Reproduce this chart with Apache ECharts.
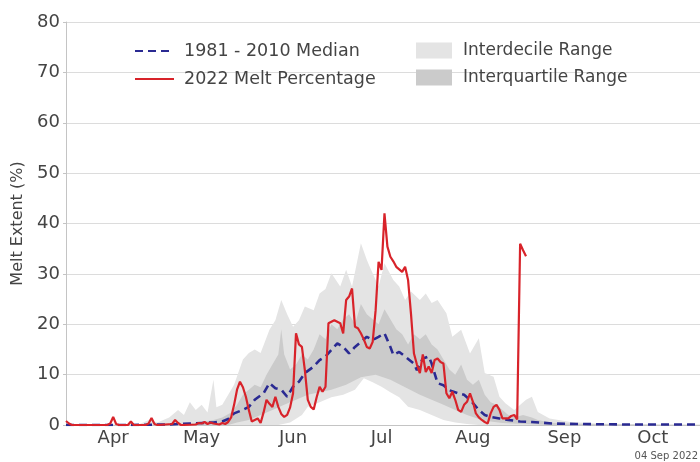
<!DOCTYPE html>
<html>
<head>
<meta charset="utf-8">
<script src="https://cdn.jsdelivr.net/npm/echarts@6/dist/echarts.min.js"></script>
<style>
  html, body { margin: 0; padding: 0; background: #fff; }
  #chart { width: 700px; height: 462px; }
</style>
</head>
<body>
<div id="chart"></div>
<script>
// x = days since 30 Mar (0 .. 215 = 31 Oct)
const monthTicks = [16, 46, 77, 107, 138, 169, 199]
const monthNames = ['Apr', 'May', 'Jun', 'Jul', 'Aug', 'Sep', 'Oct']

// 2022 melt percentage [day, %]
const melt2022 = [
  [0, 0.8], [1, 0.3], [2, 0], [14, 0], [15, 0.3], [16, 1.6], [17, 0.2], [18, 0], [21, 0], [22, 0.7], [23, 0],
  [27, 0], [28, 0.3], [29, 1.4], [30, 0.2], [31, 0], [36, 0.2], [37, 1.0], [38, 0.4], [39, 0], [44, 0.1],
  [45, 0.4], [46, 0.3], [47, 0.6], [48, 0.2], [49, 0.5], [50, 0.3], [51, 0.2], [52, 0.1], [53, 0.4], [54, 0.2],
  [55, 0.6], [56, 1.5], [57, 4], [58, 7], [59, 8.6], [60, 7.5], [61, 5.6], [62, 3], [63, 0.7], [64, 1.0],
  [65, 1.3], [66, 0.4], [67, 2.5], [68, 5], [69, 4.2], [70, 3.6], [71, 5.6], [72, 3.6], [73, 2.2], [74, 1.6],
  [75, 2], [76, 3.5], [77, 6.3], [78, 18.2], [79, 16], [80, 15.5], [81, 10.9], [82, 5], [83, 3.6], [84, 3.1],
  [85, 5.5], [86, 7.6], [87, 6.6], [88, 7.6], [89, 20.2], [90, 20.5], [91, 20.8], [92, 20.5], [93, 20.2],
  [94, 18.2], [95, 24.8], [96, 25.5], [97, 27.1], [98, 19.5], [99, 19.2], [100, 18.2], [101, 17], [102, 15.5],
  [103, 15.2], [104, 16.5], [105, 22.8], [106, 32.4], [107, 30.8], [108, 42], [109, 35.4], [110, 33.4],
  [111, 32.5], [112, 31.4], [113, 30.9], [114, 30.4], [115, 31.4], [116, 28.8], [117, 22], [118, 14.2],
  [119, 12], [120, 10.3], [121, 14], [122, 10.5], [123, 11.6], [124, 10.3], [125, 12.9], [126, 13.2],
  [127, 12.5], [128, 12.2], [129, 6.3], [130, 5.3], [131, 6.6], [132, 5], [133, 3], [134, 2.6], [135, 4],
  [136, 4.6], [137, 6.3], [138, 4.6], [139, 2.3], [140, 1.5], [141, 1], [142, 0.6], [143, 0.3], [144, 2.3],
  [145, 3.6], [146, 4], [147, 3], [148, 1.3], [149, 1.3], [150, 1.3], [151, 1.8], [152, 2], [153, 1.1],
  [154, 36], [155, 34.7], [156, 33.5]
]

// 1981-2010 median
const median = [
  [0, 0], [20, 0], [35, 0.1], [42, 0.3], [46, 0.4], [50, 0.5], [53, 0.7], [55, 1.2], [57, 2.3], [60, 3],
  [62, 3.6], [64, 5], [67, 6.3], [69, 8.3], [71, 7.3], [73, 7], [75, 5.6], [77, 7.6], [79, 8.6], [81, 10.3],
  [84, 11.6], [86, 12.9], [88, 13.6], [90, 14.9], [92, 16.2], [94, 15.5], [96, 14.2], [98, 15.5], [100, 16.5],
  [102, 17.5], [104, 16.9], [106, 17.5], [108, 18.2], [110, 15.5], [111, 13.9], [113, 14.5], [115, 13.6],
  [118, 12.2], [119, 10.9], [121, 13.2], [123, 13.6], [124, 12.2], [126, 8.3], [128, 7.9], [130, 6.9],
  [133, 6.3], [135, 6], [137, 5], [140, 3], [142, 2], [144, 1.6], [147, 1.3], [150, 1], [154, 0.7],
  [158, 0.6], [165, 0.3], [173, 0.2], [190, 0.1], [215, 0.1]
]

// percentiles
const p90 = [
  [0, 0], [25, 0.2], [28, 1], [31, 0.5], [35, 1.5], [38, 3], [40, 2], [42, 4.5], [44, 3], [46, 4], [48, 2.5],
  [50, 9], [51, 3.5], [53, 4], [55, 6], [57, 8], [60, 13], [62, 14.3], [64, 15], [66, 14.3], [69, 18.9],
  [71, 20.8], [73, 24.8], [75, 22], [77, 19.5], [79, 20.8], [81, 23.5], [84, 22.8], [86, 26.1], [88, 27],
  [90, 30.1], [93, 27.5], [95, 30.8], [97, 27.5], [100, 36.1], [102, 32.8], [103, 31.4], [106, 27.5],
  [108, 32.1], [111, 28.8], [113, 27.5], [115, 24.8], [117, 26.5], [120, 24.8], [122, 26.1], [124, 24.2],
  [126, 24.8], [129, 22.2], [131, 17.5], [134, 18.9], [137, 14.2], [140, 17.2], [142, 10.3], [145, 9.6],
  [147, 5.6], [149, 4.3], [152, 3], [156, 5], [158, 5.6], [160, 2.6], [164, 1.3], [167, 1], [171, 0.6],
  [180, 0.3], [200, 0.1], [215, 0.1]
]
const p75 = [
  [0, 0], [40, 0], [45, 0.5], [50, 1], [53, 1.5], [56, 2.5], [58, 4], [60, 6], [62, 7], [64, 8], [66, 7.5],
  [68, 10], [70, 12], [72, 14], [73, 19], [74, 14], [76, 11], [78, 12], [80, 14], [82, 13], [84, 15], [86, 18],
  [88, 17], [90, 20], [92, 19], [94, 21], [96, 22], [98, 20], [100, 24], [102, 22], [104, 21], [106, 20],
  [108, 23], [110, 21], [112, 19], [114, 18], [116, 16], [118, 18], [120, 17], [122, 18], [124, 16],
  [126, 15], [128, 13], [130, 11], [132, 10], [134, 12], [136, 9], [138, 8], [140, 9], [142, 6], [144, 4.5],
  [146, 4], [148, 3], [150, 2], [152, 1.5], [155, 2], [158, 1.5], [160, 1], [165, 0.4], [175, 0.2],
  [190, 0.1], [215, 0]
]
const p25 = [
  [0, 0], [55, 0], [58, 0.5], [62, 1], [66, 2], [70, 3], [74, 4], [78, 5], [82, 6], [86, 6.5], [90, 7],
  [95, 8], [100, 9.5], [105, 10], [110, 9], [115, 7.5], [120, 6], [124, 5], [128, 4], [132, 3], [136, 2],
  [140, 1.2], [144, 0.7], [148, 0.4], [155, 0.2], [165, 0], [215, 0]
]
const p10 = [
  [0, 0], [72, 0], [76, 0.5], [80, 2], [82, 3.6], [86, 4.5], [90, 5.5], [94, 6], [98, 7], [101, 9.3],
  [104, 8.5], [107, 7.6], [110, 6.5], [113, 5.5], [116, 3.6], [120, 3], [124, 2], [128, 1], [132, 0.5],
  [136, 0.2], [140, 0], [215, 0]
]

const FONT = 'DejaVu Sans'

function band(name, upper, lower, color, z) {
  return {
    name: name,
    type: 'custom',
    data: [[0, 0]],
    z: z,
    silent: true,
    itemStyle: { color: color },
    renderItem: (params, api) => {
      const pts = upper.map(p => api.coord(p))
        .concat(lower.slice().reverse().map(p => api.coord(p)))
      return { type: 'polygon', shape: { points: pts }, style: { fill: color } }
    }
  }
}

const chart = echarts.init(document.getElementById('chart'))
chart.setOption({
  animation: false,
  textStyle: { fontFamily: FONT },
  grid: { left: 66, right: -2, top: 22, bottom: 37 },
  legend: [
    {
      data: ['1981 - 2010 Median', '2022 Melt Percentage'],
      orient: 'vertical',
      left: 129,
      top: 37,
      itemWidth: 39,
      itemHeight: 14,
      itemGap: 10,
      itemStyle: { opacity: 0 },
      textStyle: { fontFamily: FONT, fontSize: 17.5, color: '#444', padding: [0, 0, 0, 5] }
    },
    {
      data: [{ name: 'Interdecile Range', icon: 'rect' }, { name: 'Interquartile Range', icon: 'rect' }],
      orient: 'vertical',
      left: 411,
      top: 37,
      itemWidth: 36,
      itemHeight: 16,
      itemGap: 10,
      textStyle: { fontFamily: FONT, fontSize: 17, color: '#444', padding: [0, 0, 0, 6] }
    }
  ],
  xAxis: {
    type: 'value',
    min: 0,
    max: 215,
    splitLine: { show: false },
    axisLine: { show: true, lineStyle: { color: '#c4c4c4', width: 1 } },
    axisTick: { show: false },
    axisLabel: {
      customValues: monthTicks,
      formatter: v => monthNames[monthTicks.indexOf(v)],
      fontSize: 18,
      color: '#444',
      margin: 4
    }
  },
  yAxis: {
    type: 'value',
    min: 0,
    max: 80,
    interval: 10,
    name: 'Melt Extent (%)',
    nameLocation: 'middle',
    nameGap: 37,
    nameTextStyle: { fontSize: 16, color: '#444' },
    axisLine: { show: true, lineStyle: { color: '#c4c4c4' } },
    axisTick: { show: true, length: 3, lineStyle: { color: '#c4c4c4' } },
    axisLabel: { fontSize: 18, color: '#444', margin: 6 },
    splitLine: { lineStyle: { color: '#dcdcdc', width: 1 } }
  },
  series: [
    band('Interdecile Range', p90, p10, '#e4e4e4', 1),
    band('Interquartile Range', p75, p25, '#cbcbcb', 2),
    {
      name: '1981 - 2010 Median',
      type: 'line',
      data: median,
      symbol: 'none',
      z: 3,
      lineStyle: { color: '#2a2a92', width: 2.6, type: [8, 5] },
      itemStyle: { color: '#2a2a92' }
    },
    {
      name: '2022 Melt Percentage',
      type: 'line',
      data: melt2022,
      symbol: 'none',
      z: 4,
      lineStyle: { color: '#d8232a', width: 2.2 },
      itemStyle: { color: '#d8232a' }
    }
  ],
  graphic: [
    {
      type: 'text',
      right: 2,
      bottom: 1,
      style: { text: '04 Sep 2022', fontSize: 10, fill: '#555', fontFamily: FONT }
    }
  ]
})
</script>
</body>
</html>
